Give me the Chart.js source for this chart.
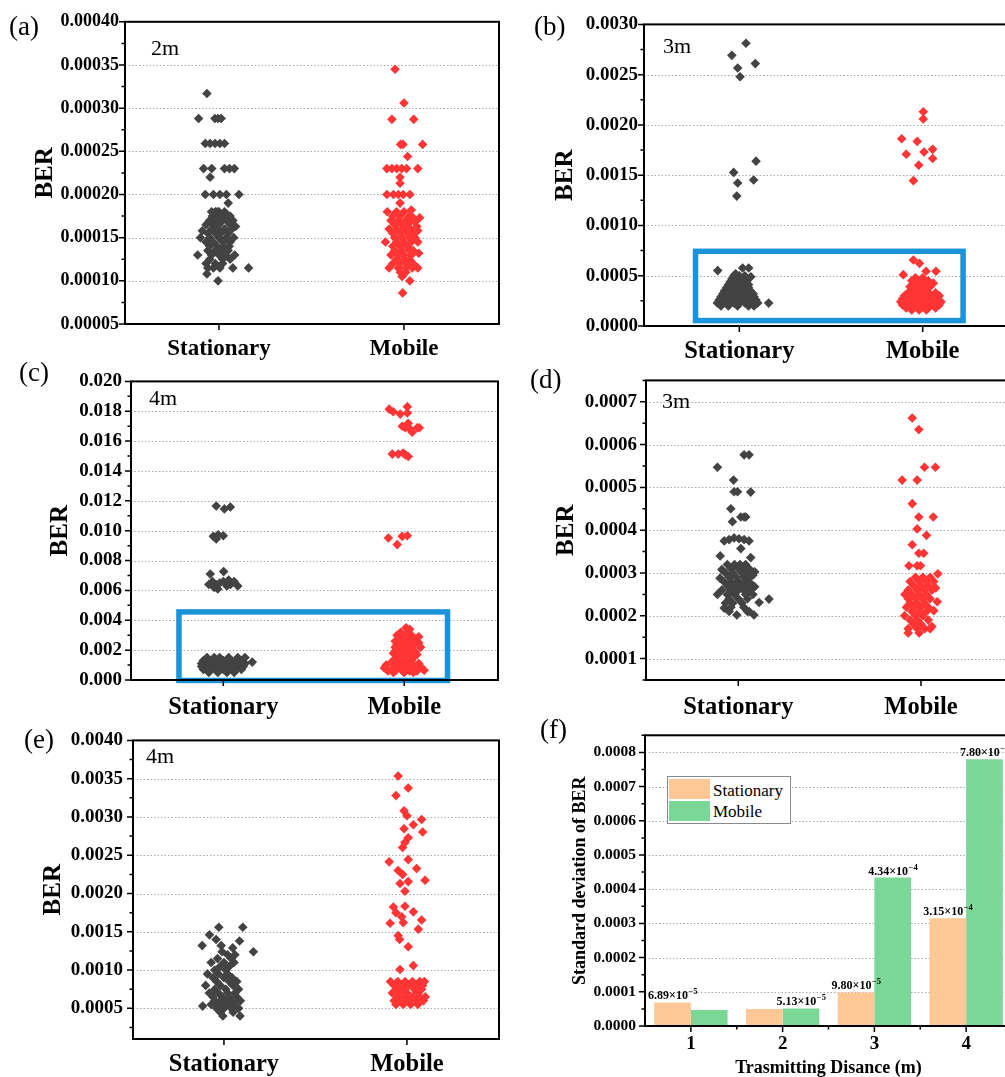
<!DOCTYPE html>
<html><head><meta charset="utf-8">
<script src="https://cdn.jsdelivr.net/npm/chart.js@4/dist/chart.umd.min.js"></script>
<style>
html,body{margin:0;padding:0;background:#fff;width:1005px;height:1077px;overflow:hidden;position:relative;}
.cv{position:absolute;}
.t{position:absolute;font-family:"Liberation Serif","Times New Roman",Times,serif;line-height:1;white-space:nowrap;color:#000;}
</style></head><body>
<script>
// ---------------- DATA ----------------
const categories = ['Stationary', 'Mobile'];
// each point: [jitter (category units), BER]
const aStationary = [
[-0.065,3.17e-4],
[-0.110,2.88e-4],[-0.022,2.88e-4],[-0.005,2.88e-4],[0.012,2.88e-4],
[-0.074,2.59e-4],[-0.048,2.59e-4],[-0.021,2.59e-4],[0.005,2.59e-4],[0.030,2.59e-4],
[-0.083,2.30e-4],[-0.039,2.30e-4],[0.030,2.30e-4],[0.057,2.30e-4],[0.083,2.30e-4],
[-0.048,2.20e-4],
[-0.074,2.00e-4],[-0.030,2.00e-4],[0.005,2.00e-4],[0.040,2.00e-4],[0.108,2.00e-4],
[0.050,1.90e-4],
[-0.04,1.80e-4],[-0.02,1.80e-4],[-0.01,1.80e-4],[0.00,1.80e-4],[0.03,1.80e-4],
[-0.035,1.75e-4],[0.005,1.75e-4],[0.045,1.75e-4],[0.06,1.75e-4],
[-0.05,1.70e-4],[-0.02,1.70e-4],[0.02,1.70e-4],[0.04,1.70e-4],[0.075,1.70e-4],
[-0.07,1.65e-4],[-0.03,1.65e-4],[0.00,1.65e-4],[0.06,1.65e-4],[0.09,1.63e-4],
[-0.09,1.58e-4],[-0.04,1.60e-4],[-0.01,1.60e-4],[0.03,1.60e-4],[0.07,1.60e-4],
[-0.06,1.55e-4],[-0.02,1.55e-4],[0.01,1.55e-4],[0.05,1.55e-4],
[-0.10,1.50e-4],[-0.05,1.50e-4],[0.00,1.50e-4],[0.04,1.50e-4],[0.08,1.50e-4],
[-0.07,1.45e-4],[-0.03,1.45e-4],[0.02,1.45e-4],[0.06,1.45e-4],
[-0.05,1.40e-4],[-0.01,1.40e-4],[0.03,1.40e-4],[0.055,1.40e-4],
[-0.06,1.35e-4],[-0.02,1.35e-4],[0.01,1.35e-4],[0.05,1.35e-4],
[-0.115,1.30e-4],[-0.04,1.30e-4],[0.00,1.30e-4],[0.035,1.30e-4],[0.085,1.30e-4],
[-0.05,1.25e-4],[0.02,1.25e-4],[0.06,1.25e-4],
[-0.07,1.20e-4],[-0.02,1.20e-4],[0.02,1.20e-4],
[-0.06,1.15e-4],[-0.03,1.15e-4],[0.005,1.15e-4],[0.075,1.15e-4],[0.16,1.15e-4],
[-0.065,1.08e-4],[-0.005,1.00e-4]
];
const aMobile = [
[-0.048,3.45e-4],[0.000,3.06e-4],
[-0.065,2.87e-4],[0.053,2.87e-4],
[-0.018,2.58e-4],[-0.005,2.58e-4],[0.101,2.58e-4],
[0.020,2.44e-4],
[-0.092,2.30e-4],[-0.065,2.30e-4],[-0.039,2.30e-4],[-0.012,2.30e-4],[0.014,2.30e-4],[0.075,2.30e-4],
[-0.021,2.20e-4],[-0.021,2.13e-4],
[-0.092,2.00e-4],[-0.057,2.00e-4],[-0.030,2.00e-4],[-0.004,2.00e-4],[0.032,2.00e-4],
[-0.021,1.90e-4],
[-0.09,1.80e-4],[-0.04,1.80e-4],[0.00,1.80e-4],[0.04,1.82e-4],
[-0.06,1.75e-4],[-0.02,1.75e-4],[0.03,1.75e-4],[0.05,1.73e-4],[0.085,1.73e-4],
[-0.07,1.70e-4],[-0.03,1.70e-4],[0.01,1.70e-4],[0.04,1.70e-4],[0.06,1.68e-4],
[-0.05,1.65e-4],[-0.01,1.65e-4],[0.02,1.65e-4],[0.07,1.63e-4],
[-0.08,1.60e-4],[-0.04,1.60e-4],[0.00,1.60e-4],[0.035,1.60e-4],[0.075,1.58e-4],
[-0.06,1.55e-4],[-0.02,1.55e-4],[0.02,1.55e-4],[0.05,1.55e-4],
[-0.05,1.50e-4],[-0.01,1.50e-4],[0.03,1.50e-4],[0.06,1.50e-4],
[-0.10,1.45e-4],[-0.04,1.45e-4],[0.00,1.45e-4],[0.04,1.45e-4],[0.075,1.45e-4],
[-0.06,1.40e-4],[-0.02,1.40e-4],[0.02,1.40e-4],
[-0.05,1.35e-4],[-0.01,1.35e-4],[0.03,1.35e-4],[0.05,1.35e-4],
[-0.07,1.30e-4],[-0.03,1.30e-4],[0.00,1.30e-4],[0.04,1.30e-4],[0.08,1.32e-4],
[-0.04,1.25e-4],[0.00,1.25e-4],[0.03,1.25e-4],
[-0.06,1.20e-4],[-0.02,1.20e-4],[0.02,1.20e-4],[0.05,1.20e-4],
[-0.08,1.15e-4],[-0.03,1.15e-4],[0.01,1.15e-4],[0.045,1.15e-4],[0.075,1.15e-4],
[-0.02,1.10e-4],[0.01,1.10e-4],[-0.01,1.05e-4],[0.032,1.00e-4],[-0.007,0.86e-4]
];
const bStationary = [
[0.036,2.813e-3],[-0.041,2.692e-3],[-0.009,2.567e-3],[0.004,2.479e-3],[0.087,2.610e-3],
[0.091,1.640e-3],[-0.031,1.528e-3],[-0.009,1.423e-3],[0.078,1.452e-3],[-0.014,1.292e-3],
[-0.118,5.51e-4],[0.018,5.77e-4],[0.051,5.77e-4],[0.063,4.90e-4],[0.16,2.28e-4],
[-0.02,5.2e-4],
[-0.03,5.0e-4],[0.0,5.0e-4],[0.03,5.0e-4],
[-0.04,4.7e-4],[-0.01,4.7e-4],[0.02,4.7e-4],[0.045,4.7e-4],
[-0.05,4.4e-4],[-0.02,4.4e-4],[0.01,4.4e-4],[0.04,4.4e-4],
[-0.06,4.1e-4],[-0.03,4.1e-4],[0.0,4.1e-4],[0.03,4.1e-4],[0.05,4.1e-4],
[-0.07,3.8e-4],[-0.04,3.8e-4],[-0.01,3.8e-4],[0.02,3.8e-4],[0.05,3.8e-4],
[-0.08,3.5e-4],[-0.05,3.5e-4],[-0.02,3.5e-4],[0.01,3.5e-4],[0.04,3.5e-4],[0.06,3.5e-4],
[-0.09,3.2e-4],[-0.06,3.2e-4],[-0.03,3.2e-4],[0.0,3.2e-4],[0.03,3.2e-4],[0.06,3.2e-4],[0.075,3.2e-4],
[-0.10,2.9e-4],[-0.07,2.9e-4],[-0.04,2.9e-4],[-0.01,2.9e-4],[0.02,2.9e-4],[0.05,2.9e-4],[0.08,2.9e-4],
[-0.11,2.6e-4],[-0.08,2.6e-4],[-0.05,2.6e-4],[-0.02,2.6e-4],[0.01,2.6e-4],[0.04,2.6e-4],[0.07,2.6e-4],[0.09,2.6e-4],
[-0.12,2.3e-4],[-0.09,2.3e-4],[-0.06,2.3e-4],[-0.03,2.3e-4],[0.0,2.3e-4],[0.03,2.3e-4],[0.06,2.3e-4],[0.10,2.3e-4],
[-0.10,2.0e-4],[-0.06,2.0e-4],[-0.01,2.0e-4],[0.05,2.0e-4],[0.08,2.0e-4]
];
const bMobile = [
[0.003,2.131e-3],[0.003,2.059e-3],[-0.115,1.862e-3],[-0.030,1.836e-3],[-0.090,1.708e-3],[0.007,1.731e-3],
[0.054,1.757e-3],[0.054,1.666e-3],[-0.022,1.600e-3],[-0.051,1.446e-3],
[-0.051,6.56e-4],[-0.018,6.23e-4],[-0.106,5.11e-4],[0.018,5.44e-4],[0.072,5.44e-4],[0.058,4.26e-4],
[-0.04,4.8e-4],[0.0,4.8e-4],
[-0.06,4.5e-4],[-0.02,4.5e-4],[0.03,4.5e-4],
[-0.05,4.2e-4],[-0.01,4.2e-4],[0.02,4.2e-4],
[-0.07,3.9e-4],[-0.03,3.9e-4],[0.01,3.9e-4],[0.04,3.9e-4],
[-0.06,3.6e-4],[-0.02,3.6e-4],[0.02,3.6e-4],
[-0.08,3.3e-4],[-0.04,3.3e-4],[0.0,3.3e-4],[0.03,3.3e-4],[0.07,3.3e-4],
[-0.10,3.0e-4],[-0.06,3.0e-4],[-0.02,3.0e-4],[0.02,3.0e-4],[0.05,3.0e-4],[0.09,3.0e-4],
[-0.11,2.7e-4],[-0.07,2.7e-4],[-0.03,2.7e-4],[0.01,2.7e-4],[0.05,2.7e-4],[0.08,2.7e-4],
[-0.12,2.4e-4],[-0.08,2.4e-4],[-0.04,2.4e-4],[0.0,2.4e-4],[0.04,2.4e-4],[0.08,2.4e-4],[0.10,2.4e-4],
[-0.11,2.1e-4],[-0.07,2.1e-4],[-0.03,2.1e-4],[0.01,2.1e-4],[0.05,2.1e-4],[0.09,2.1e-4],
[-0.09,1.8e-4],[-0.05,1.8e-4],[-0.01,1.8e-4],[0.03,1.8e-4],[0.07,1.8e-4],
[-0.06,1.6e-4],[-0.02,1.6e-4],[0.02,1.6e-4]
];
const cStationary = [
[-0.039,1.165e-2],[0.006,1.146e-2],[0.039,1.159e-2],
[-0.055,9.62e-3],[-0.028,9.73e-3],[0.0,9.66e-3],[-0.039,9.44e-3],
[-0.072,7.10e-3],[0.002,7.26e-3],
[-0.08,6.4e-3],[-0.06,6.6e-3],[-0.05,6.2e-3],[-0.04,6.4e-3],[-0.03,6.1e-3],[-0.02,6.5e-3],[0.0,6.6e-3],
[0.02,6.3e-3],[0.03,6.7e-3],[0.04,6.4e-3],[0.06,6.6e-3],[0.08,6.3e-3],
[-0.09,1.5e-3],[-0.05,1.5e-3],[-0.02,1.5e-3],[0.03,1.5e-3],[0.08,1.5e-3],[0.12,1.5e-3],
[-0.11,1.3e-3],[-0.07,1.3e-3],[-0.03,1.3e-3],[0.0,1.3e-3],[0.04,1.3e-3],[0.07,1.3e-3],[0.10,1.3e-3],
[-0.12,1.1e-3],[-0.08,1.1e-3],[-0.05,1.1e-3],[-0.01,1.1e-3],[0.02,1.1e-3],[0.06,1.1e-3],[0.09,1.1e-3],[0.12,1.1e-3],
[-0.12,0.9e-3],[-0.09,0.9e-3],[-0.06,0.9e-3],[-0.02,0.9e-3],[0.01,0.9e-3],[0.05,0.9e-3],[0.08,0.9e-3],[0.11,0.9e-3],
[-0.11,0.7e-3],[-0.07,0.7e-3],[-0.04,0.7e-3],[0.0,0.7e-3],[0.03,0.7e-3],[0.07,0.7e-3],[0.10,0.7e-3],
[-0.08,0.5e-3],[-0.03,0.5e-3],[0.02,0.5e-3],[0.06,0.5e-3],
[0.16,1.2e-3]
];
const cMobile = [
[-0.083,1.814e-2],[-0.061,1.797e-2],[-0.022,1.781e-2],[0.017,1.831e-2],[0.017,1.788e-2],
[-0.011,1.70e-2],[0.006,1.69e-2],[0.033,1.68e-2],[0.072,1.69e-2],[0.044,1.66e-2],[0.083,1.69e-2],[0.022,1.72e-2],
[-0.066,1.513e-2],[-0.033,1.513e-2],[0.006,1.508e-2],[0.022,1.497e-2],[-0.006,1.52e-2],
[-0.088,9.51e-3],[-0.039,9.07e-3],[-0.011,9.62e-3],[0.017,9.66e-3],
[0.01,3.5e-3],[0.03,3.4e-3],
[-0.02,3.2e-3],[0.02,3.2e-3],
[-0.04,3.0e-3],[0.0,3.0e-3],[0.04,3.0e-3],[0.08,2.9e-3],
[-0.03,2.8e-3],[0.02,2.8e-3],[0.06,2.75e-3],
[-0.05,2.6e-3],[-0.01,2.6e-3],[0.03,2.6e-3],[0.08,2.5e-3],
[-0.04,2.4e-3],[0.0,2.4e-3],[0.05,2.35e-3],
[-0.05,2.2e-3],[-0.02,2.2e-3],[0.02,2.2e-3],[0.04,2.1e-3],[0.09,2.2e-3],
[-0.04,2.0e-3],[0.01,2.0e-3],[0.06,1.9e-3],
[-0.06,1.8e-3],[-0.02,1.8e-3],[0.03,1.8e-3],[0.07,1.7e-3],
[-0.03,1.6e-3],[0.01,1.6e-3],[0.05,1.5e-3],
[-0.05,1.4e-3],[0.0,1.4e-3],[0.04,1.3e-3],
[-0.07,1.2e-3],[-0.02,1.2e-3],[0.03,1.2e-3],[0.08,1.1e-3],
[-0.10,1.0e-3],[-0.04,1.0e-3],[0.0,1.0e-3],[0.05,0.95e-3],[0.09,0.9e-3],
[-0.11,0.8e-3],[-0.06,0.8e-3],[-0.02,0.8e-3],[0.02,0.8e-3],[0.06,0.8e-3],[0.10,0.75e-3],
[-0.09,0.6e-3],[-0.05,0.6e-3],[-0.01,0.6e-3],[0.03,0.6e-3],[0.07,0.6e-3],[0.11,0.65e-3],
[-0.06,0.5e-3],[0.0,0.5e-3],[0.05,0.5e-3]
];
const dStationary = [
[0.032,5.76e-4],[0.059,5.76e-4],[-0.114,5.47e-4],[-0.026,5.17e-4],
[-0.023,4.90e-4],[-0.004,4.90e-4],[0.068,4.89e-4],
[-0.041,4.50e-4],[-0.032,4.20e-4],[0.014,4.31e-4],[0.032,4.31e-4],[0.041,4.31e-4],
[-0.077,3.75e-4],[-0.05,3.78e-4],[-0.023,3.82e-4],[0.004,3.80e-4],[0.032,3.78e-4],[0.059,3.75e-4],[0.014,3.57e-4],
[-0.099,3.40e-4],[0.068,3.36e-4],
[-0.06,3.2e-4],[-0.02,3.2e-4],[0.01,3.2e-4],[0.04,3.2e-4],
[-0.09,3.08e-4],[-0.04,3.1e-4],[0.0,3.1e-4],[0.03,3.1e-4],[0.06,3.1e-4],[0.09,3.03e-4],
[-0.07,3.0e-4],[-0.03,3.0e-4],[0.02,3.0e-4],[0.05,3.0e-4],[0.08,2.95e-4],
[-0.10,2.88e-4],[-0.05,2.9e-4],[-0.01,2.9e-4],[0.03,2.9e-4],[0.06,2.9e-4],
[-0.08,2.8e-4],[-0.04,2.8e-4],[0.0,2.8e-4],[0.04,2.8e-4],[0.07,2.75e-4],
[-0.06,2.7e-4],[-0.02,2.7e-4],[0.02,2.7e-4],[0.05,2.7e-4],[0.09,2.68e-4],
[-0.09,2.6e-4],[-0.04,2.6e-4],[0.0,2.6e-4],[0.03,2.6e-4],[0.06,2.6e-4],
[-0.114,2.5e-4],[-0.06,2.5e-4],[-0.02,2.5e-4],[0.04,2.5e-4],[0.08,2.5e-4],
[-0.05,2.4e-4],[0.0,2.4e-4],[0.05,2.4e-4],[0.168,2.39e-4],
[-0.07,2.3e-4],[-0.03,2.3e-4],[0.02,2.3e-4],[0.114,2.31e-4],
[-0.077,2.18e-4],[-0.04,2.2e-4],[0.03,2.2e-4],
[-0.05,2.1e-4],[0.05,2.1e-4],[0.06,2.1e-4],
[-0.008,2.02e-4],[0.086,2.02e-4]
];
const dMobile = [
[-0.048,6.62e-4],[-0.012,6.35e-4],[0.019,5.47e-4],[0.079,5.47e-4],[-0.103,5.17e-4],[-0.021,5.17e-4],
[-0.048,4.62e-4],[-0.012,4.31e-4],[0.067,4.31e-4],[-0.021,4.03e-4],[0.030,3.88e-4],[-0.048,3.66e-4],
[-0.012,3.46e-4],[0.015,3.46e-4],[-0.066,3.17e-4],[-0.021,3.17e-4],[-0.003,3.17e-4],[0.092,2.98e-4],
[-0.03,2.9e-4],[0.01,2.9e-4],[0.05,2.9e-4],
[-0.06,2.8e-4],[-0.01,2.8e-4],[0.03,2.8e-4],[0.07,2.8e-4],
[-0.04,2.7e-4],[0.0,2.7e-4],[0.04,2.7e-4],[0.08,2.65e-4],
[-0.07,2.6e-4],[-0.02,2.6e-4],[0.02,2.6e-4],[0.06,2.6e-4],
[-0.088,2.5e-4],[-0.05,2.5e-4],[-0.01,2.5e-4],[0.03,2.5e-4],
[-0.07,2.4e-4],[-0.03,2.4e-4],[0.01,2.4e-4],[0.05,2.4e-4],
[-0.06,2.3e-4],[-0.02,2.3e-4],[0.02,2.3e-4],[0.089,2.33e-4],
[-0.08,2.2e-4],[-0.04,2.2e-4],[0.0,2.2e-4],[0.04,2.2e-4],
[-0.05,2.1e-4],[-0.01,2.1e-4],[0.03,2.1e-4],[0.07,2.12e-4],
[-0.09,2.0e-4],[-0.03,2.0e-4],[0.01,2.0e-4],
[-0.06,1.9e-4],[-0.02,1.9e-4],[0.04,1.9e-4],
[-0.04,1.8e-4],[0.0,1.8e-4],[0.06,1.75e-4],
[-0.07,1.7e-4],[-0.02,1.7e-4],[0.02,1.7e-4],[0.05,1.7e-4],
[-0.07,1.6e-4],[-0.01,1.6e-4]
];
const eStationary = [
[-0.028,1.56e-3],[0.103,1.56e-3],[-0.079,1.46e-3],[-0.043,1.40e-3],[0.085,1.38e-3],[-0.119,1.32e-3],
[-0.015,1.32e-3],[0.048,1.29e-3],[-0.01,1.24e-3],[0.161,1.24e-3],
[0.02,1.2e-3],[0.06,1.2e-3],[-0.035,1.15e-3],[0.04,1.15e-3],[-0.07,1.1e-3],[0.0,1.1e-3],[0.055,1.1e-3],
[-0.02,1.05e-3],[0.03,1.05e-3],[-0.05,1.0e-3],[0.01,1.0e-3],
[-0.09,0.95e-3],[-0.03,0.95e-3],[0.02,0.95e-3],[-0.06,0.9e-3],[0.0,0.9e-3],[0.045,0.9e-3],
[-0.04,0.85e-3],[0.03,0.85e-3],[0.07,0.85e-3],
[-0.10,0.8e-3],[-0.02,0.8e-3],[0.05,0.8e-3],[-0.05,0.75e-3],[0.01,0.75e-3],[0.08,0.75e-3],
[-0.08,0.7e-3],[-0.03,0.7e-3],[0.02,0.7e-3],[0.06,0.7e-3],
[-0.06,0.65e-3],[-0.01,0.65e-3],[0.03,0.65e-3],[0.07,0.65e-3],
[-0.05,0.6e-3],[-0.02,0.6e-3],[0.01,0.6e-3],[0.04,0.6e-3],[0.09,0.6e-3],
[-0.07,0.55e-3],[-0.03,0.55e-3],[0.0,0.55e-3],[0.03,0.55e-3],[0.06,0.55e-3],
[-0.04,0.5e-3],[0.0,0.5e-3],[0.04,0.5e-3],[0.08,0.5e-3],[-0.116,0.53e-3],
[-0.02,0.45e-3],[0.05,0.45e-3],[-0.006,0.4e-3],[0.088,0.4e-3]
];
const eMobile = [
[-0.048,3.536e-3],[0.007,3.378e-3],[-0.060,3.279e-3],[-0.016,3.080e-3],[0.000,3.016e-3],[0.080,2.966e-3],
[0.035,2.898e-3],[-0.016,2.847e-3],[0.086,2.804e-3],[0.007,2.728e-3],[-0.011,2.668e-3],[-0.024,2.601e-3],
[-0.097,2.414e-3],[0.007,2.443e-3],[-0.048,2.301e-3],[-0.024,2.250e-3],[0.053,2.327e-3],[0.007,2.156e-3],
[0.099,2.173e-3],[-0.038,2.131e-3],[-0.011,2.030e-3],
[-0.074,1.825e-3],[-0.011,1.833e-3],[0.035,1.761e-3],[-0.029,1.697e-3],[0.080,1.654e-3],[-0.092,1.612e-3],
[-0.048,1.450e-3],[0.062,1.535e-3],[0.007,1.305e-3],[-0.06,1.75e-3],[-0.02,1.62e-3],[-0.04,1.40e-3],
[0.035,1.059e-3],[-0.038,1.008e-3],
[-0.09,0.85e-3],[-0.05,0.85e-3],[-0.01,0.85e-3],[0.03,0.85e-3],[0.07,0.85e-3],[0.095,0.85e-3],
[-0.07,0.8e-3],[-0.03,0.8e-3],[0.01,0.8e-3],[0.05,0.8e-3],[0.085,0.8e-3],
[-0.06,0.75e-3],[-0.02,0.75e-3],[0.04,0.75e-3],[0.08,0.75e-3],
[-0.08,0.7e-3],[-0.04,0.7e-3],[0.0,0.7e-3],[0.06,0.7e-3],
[-0.05,0.65e-3],[-0.01,0.65e-3],[0.03,0.65e-3],[0.07,0.65e-3],[0.10,0.65e-3],
[-0.07,0.6e-3],[-0.03,0.6e-3],[0.01,0.6e-3],[0.05,0.6e-3],[0.09,0.6e-3],
[-0.06,0.55e-3],[-0.02,0.55e-3],[0.02,0.55e-3],[0.06,0.55e-3]
];
// tick values
const aTicks = [0.00005,0.0001,0.00015,0.0002,0.00025,0.0003,0.00035,0.0004];
const bTicks = [0,0.0005,0.001,0.0015,0.002,0.0025,0.003];
const cTicks = [0,0.002,0.004,0.006,0.008,0.010,0.012,0.014,0.016,0.018,0.020];
const dTicks = [0.0001,0.0002,0.0003,0.0004,0.0005,0.0006,0.0007];
const eTicks = [0.0005,0.001,0.0015,0.002,0.0025,0.003,0.0035,0.004];
const fTicks = [0,0.0001,0.0002,0.0003,0.0004,0.0005,0.0006,0.0007,0.0008];
// highlight boxes [xFrom, xTo, yFrom, yTo]
const bBox = [0.761, 2.22, 0.000054, 0.000743];
const cBox = [0.755, 2.239, -0.00003, 0.00456];
// panel (f)
const fDistances = ['1','2','3','4'];
const fSeries = ['Stationary','Mobile'];
const fStationary = [6.89e-5, 5.0e-5, 9.80e-5, 3.15e-4];
const fMobile = [4.7e-5, 5.13e-5, 4.34e-4, 7.80e-4];
const fStatLabels = [['6.89','\u22125'], null, ['9.80','\u22125'], ['3.15','\u22124']];
const fMobLabels = [null, ['5.13','\u22125'], ['4.34','\u22124'], ['7.80','\u22124']];

// ---------------- RENDER ----------------
const SERIF = '"Liberation Serif","Times New Roman",Times,serif';
const STAT_COLOR = '#434343', MOB_COLOR = '#ff3535';
const PT = 14, PR = 12, YW = 120, XH = 60;

function placeText(txt, x, baseline, size, weight) {
  const d = document.createElement('div');
  d.className = 't'; d.textContent = txt;
  d.style.left = x + 'px'; d.style.top = (baseline - 0.8375 * size) + 'px';
  d.style.fontSize = size + 'px'; d.style.fontWeight = weight || 'normal';
  document.body.appendChild(d);
}
function minorTicks(ticks, min, max) {
  const out = [], step = ticks[1] - ticks[0];
  const cand = [ticks[0] - step / 2].concat(ticks.map(v => v + step / 2));
  cand.forEach(v => { if (v >= min - 1e-12 && v <= max + 1e-12) out.push(v); });
  return out;
}
function makeCanvas(p) {
  const cv = document.createElement('canvas');
  const w = p.R - p.L + YW + PR, h = p.B - p.T + PT + XH;
  cv.width = w; cv.height = h; cv.className = 'cv';
  cv.style.left = (p.L - YW) + 'px'; cv.style.top = (p.T - PT) + 'px';
  cv.style.width = w + 'px'; cv.style.height = h + 'px';
  document.body.appendChild(cv);
  return cv;
}
function framePlugin(p) {
  return {
    id: 'frame',
    beforeDatasetsDraw(chart) {
      const {ctx, chartArea: a, scales: {y}} = chart;
      ctx.save(); ctx.strokeStyle = '#aaaaaa'; ctx.lineWidth = 1; ctx.setLineDash([1.5, 2]);
      p.ticks.forEach(v => {
        if (v > p.ymin + 1e-12 && v < p.ymax - 1e-12) {
          const yy = Math.round(y.getPixelForValue(v)) + 0.5;
          ctx.beginPath(); ctx.moveTo(a.left, yy); ctx.lineTo(a.right, yy); ctx.stroke();
        }
      });
      ctx.restore();
    },
    afterDatasetsDraw(chart) {
      const {ctx, chartArea: a, scales: {x, y}} = chart;
      ctx.save();
      if (p.box) {
        ctx.strokeStyle = '#1a94d8'; ctx.lineWidth = 5.5;
        const x0 = x.getPixelForValue(p.box[0]), x1 = x.getPixelForValue(p.box[1]);
        const y0 = y.getPixelForValue(p.box[2]), y1 = y.getPixelForValue(p.box[3]);
        ctx.strokeRect(x0, y1, x1 - x0, y0 - y1);
      }
      ctx.strokeStyle = '#000'; ctx.lineWidth = 2;
      ctx.strokeRect(a.left, a.top, a.right - a.left, a.bottom - a.top);
      ctx.lineWidth = 1.5; ctx.beginPath();
      p.ticks.forEach(v => { const yy = y.getPixelForValue(v); ctx.moveTo(a.left - 6, yy); ctx.lineTo(a.left, yy); });
      minorTicks(p.ticks, p.ymin, p.ymax).forEach(v => { const yy = y.getPixelForValue(v); ctx.moveTo(a.left - 3.5, yy); ctx.lineTo(a.left, yy); });
      p.xMajor(x).forEach(xx => { ctx.moveTo(xx, a.bottom); ctx.lineTo(xx, a.bottom + 6); });
      p.xMinor(x).forEach(xx => { ctx.moveTo(xx, a.bottom); ctx.lineTo(xx, a.bottom + 3.5); });
      ctx.stroke();
      ctx.restore();
    }
  };
}
function hiddenGrid() { return {display: true, drawOnChartArea: false, drawTicks: false, color: 'rgba(0,0,0,0)'}; }

function makeScatter(p) {
  const cv = makeCanvas(p);
  p.xMajor = x => [1, 2].map(v => x.getPixelForValue(v));
  p.xMinor = x => [];
  new Chart(cv.getContext('2d'), {
    type: 'scatter',
    data: {
      datasets: p.series.map((s, i) => ({
        data: s.map(pt => ({x: i + 1 + pt[0], y: pt[1]})),
        backgroundColor: i === 0 ? STAT_COLOR : MOB_COLOR,
        borderWidth: 0, pointStyle: 'rectRot', pointRadius: 4.8, pointHoverRadius: 4.8
      }))
    },
    options: {
      responsive: false, animation: false, devicePixelRatio: 1,
      layout: {padding: {top: PT, right: PR, left: 0, bottom: 0}},
      plugins: {legend: {display: false}, tooltip: {enabled: false}},
      events: [],
      scales: {
        x: {
          type: 'linear', min: p.xmin, max: p.xmax,
          afterFit: s => { s.height = XH; },
          afterBuildTicks: s => { s.ticks = categories.map((c, i) => ({value: i + 1})); },
          ticks: {callback: v => categories[Math.round(v) - 1] || '', color: '#000', autoSkip: false, maxRotation: 0,
                  padding: p.catPad, font: {family: SERIF, size: p.catFont, weight: 'bold'}},
          grid: hiddenGrid(), border: {display: false}
        },
        y: {
          min: p.ymin, max: p.ymax,
          afterFit: s => { s.width = YW; },
          afterBuildTicks: s => { s.ticks = p.ticks.map(v => ({value: v})); },
          ticks: {callback: v => Number(v).toFixed(p.dec), color: '#000', autoSkip: false, padding: p.tickPad,
                  font: {family: SERIF, size: p.tickFont, weight: 'bold'}},
          grid: hiddenGrid(), border: {display: false},
          title: {display: true, text: 'BER', color: '#000', font: {family: SERIF, size: 25, weight: 'bold'},
                  padding: {top: p.titlePad, bottom: 0}}
        }
      }
    },
    plugins: [framePlugin(p)]
  });
}

makeScatter({L:125, T:19, R:499, B:324, xmin:0.492, xmax:2.514, ymin:0.00005, ymax:0.0004, ticks:aTicks, dec:5,
  tickFont:18, tickPad:6, catFont:23, catPad:11, titlePad:26, series:[aStationary, aMobile]});
makeScatter({L:644, T:21, R:1019, B:326, xmin:0.48, xmax:2.525, ymin:0, ymax:0.003, ticks:bTicks, dec:4,
  tickFont:19, tickPad:6, catFont:24.5, catPad:11, titlePad:27, series:[bStationary, bMobile], box:bBox});
makeScatter({L:131, T:375, R:498, B:680, xmin:0.49, xmax:2.518, ymin:0, ymax:0.02, ticks:cTicks, dec:3,
  tickFont:19, tickPad:9, catFont:24.5, catPad:13, titlePad:35, series:[cStationary, cMobile], box:cBox});
makeScatter({L:646, T:374, R:1012, B:680, xmin:0.495, xmax:2.498, ymin:0.00005, ymax:0.00075, ticks:dTicks, dec:4,
  tickFont:19, tickPad:9, catFont:24.5, catPad:13, titlePad:26, series:[dStationary, dMobile]});
makeScatter({L:133, T:733, R:499, B:1039, xmin:0.503, xmax:2.503, ymin:0.0001, ymax:0.004, ticks:eTicks, dec:4,
  tickFont:19, tickPad:10, catFont:24.5, catPad:10.5, titlePad:26, series:[eStationary, eMobile]});

// panel (f) bar chart
(function () {
  const p = {L:645, T:731, R:1012, B:1026, ymin:0, ymax:0.00085, ticks:fTicks};
  const cv = makeCanvas(p);
  p.xMajor = x => fDistances.map((d, i) => x.getPixelForValue(i));
  p.xMinor = x => fDistances.slice(1).map((d, i) => (x.getPixelForValue(i) + x.getPixelForValue(i + 1)) / 2);
  const labelPlugin = {
    id: 'vlabels',
    afterDatasetsDraw(chart) {
      const ctx = chart.ctx;
      ctx.save(); ctx.fillStyle = '#000'; ctx.textBaseline = 'alphabetic'; ctx.textAlign = 'left';
      [fStatLabels, fMobLabels].forEach((labels, di) => {
        const meta = chart.getDatasetMeta(di);
        labels.forEach((lab, i) => {
          if (!lab) return;
          const bar = meta.data[i];
          const main = lab[0] + '\u00d710';
          ctx.font = 'bold 12px ' + SERIF; const w1 = ctx.measureText(main).width;
          ctx.font = 'bold 8.5px ' + SERIF; const w2 = ctx.measureText(lab[1]).width;
          const x0 = bar.x - (w1 + w2) / 2, by = bar.y - 3;
          ctx.font = 'bold 12px ' + SERIF; ctx.fillText(main, x0, by);
          ctx.font = 'bold 8.5px ' + SERIF; ctx.fillText(lab[1], x0 + w1 + 0.5, by - 5);
        });
      });
      ctx.restore();
    }
  };
  new Chart(cv.getContext('2d'), {
    type: 'bar',
    data: {
      labels: fDistances,
      datasets: [
        {label: fSeries[0], data: fStationary, backgroundColor: '#fec896', borderWidth: 0, categoryPercentage: 0.8, barPercentage: 1},
        {label: fSeries[1], data: fMobile, backgroundColor: '#7ad796', borderWidth: 0, categoryPercentage: 0.8, barPercentage: 1}
      ]
    },
    options: {
      responsive: false, animation: false, devicePixelRatio: 1, events: [],
      layout: {padding: {top: PT, right: PR, left: 0, bottom: 0}},
      plugins: {legend: {display: false}, tooltip: {enabled: false}},
      scales: {
        x: {
          afterFit: s => { s.height = XH; },
          ticks: {color: '#000', padding: 7, font: {family: SERIF, size: 19, weight: 'bold'}},
          grid: hiddenGrid(), border: {display: false},
          title: {display: true, text: 'Trasmitting Disance (m)', color: '#000', font: {family: SERIF, size: 18, weight: 'bold'},
                  padding: {top: 0, bottom: 7}}
        },
        y: {
          min: p.ymin, max: p.ymax,
          afterFit: s => { s.width = YW; },
          afterBuildTicks: s => { s.ticks = fTicks.map(v => ({value: v})); },
          ticks: {callback: v => Number(v).toFixed(4), color: '#000', padding: 9, font: {family: SERIF, size: 15.5, weight: 'bold'}},
          grid: hiddenGrid(), border: {display: false},
          title: {display: true, text: 'Standard deviation of BER', color: '#000', font: {family: SERIF, size: 18, weight: 'bold'},
                  padding: {top: 45, bottom: 0}}
        }
      }
    },
    plugins: [framePlugin(p), labelPlugin]
  });
  // legend
  const leg = document.createElement('div');
  leg.style.cssText = 'position:absolute;left:667px;top:776px;width:124px;height:48px;border:1px solid #8a8a8a;background:#fff;box-sizing:border-box;';
  document.body.appendChild(leg);
  [['#fec896', fSeries[0]], ['#7ad796', fSeries[1]]].forEach((e, i) => {
    const sw = document.createElement('div');
    sw.style.cssText = 'position:absolute;left:1px;top:' + (2 + i * 22) + 'px;width:41px;height:20px;background:' + e[0] + ';';
    leg.appendChild(sw);
    const tx = document.createElement('div');
    tx.className = 't'; tx.textContent = e[1];
    tx.style.left = '45px'; tx.style.top = (19 + i * 21.5 - 0.8375 * 17) + 'px'; tx.style.fontSize = '17px';
    leg.appendChild(tx);
  });
})();

// panel letters & distance tags
const panelLetters = ['(a)', '(b)', '(c)', '(d)', '(e)', '(f)'];
const letterPos = [[9, 35.5], [534, 35.5], [19, 382], [530, 388.5], [24, 748.5], [540, 739]];
panelLetters.forEach((t, i) => placeText(t, letterPos[i][0], letterPos[i][1], 27));
const distanceTags = ['2m', '3m', '4m', '3m', '4m'];
const tagPos = [[151, 55], [663, 53.3], [149, 405.7], [662, 408], [146, 763]];
distanceTags.forEach((t, i) => placeText(t, tagPos[i][0], tagPos[i][1], 22));
</script>
</body></html>
